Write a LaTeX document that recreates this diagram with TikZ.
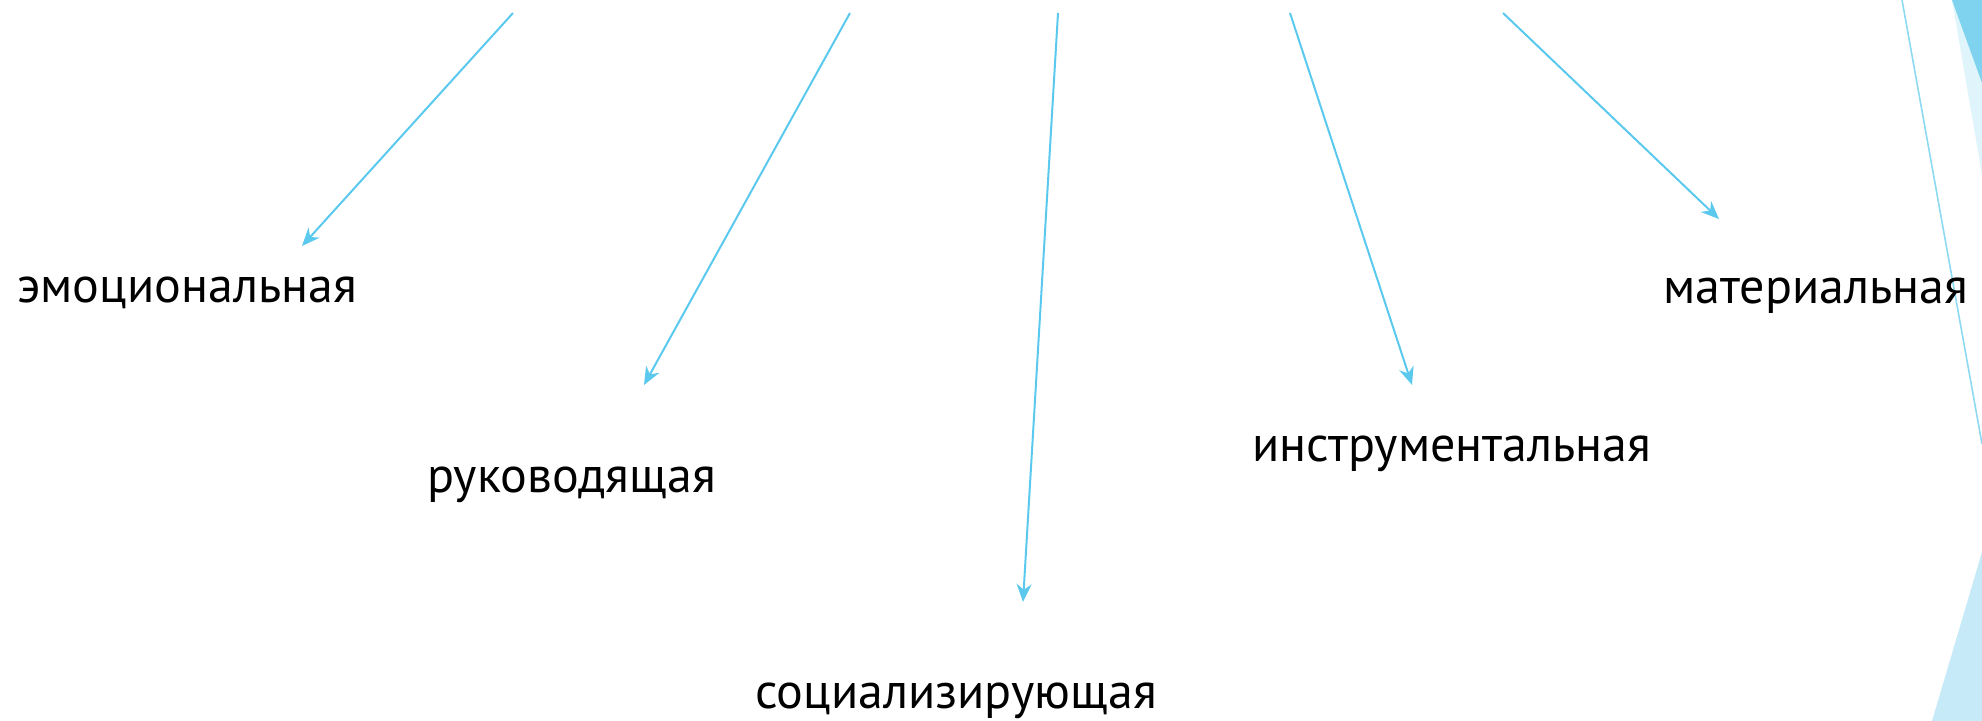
\documentclass[tikz,border=0pt]{standalone}
\usepackage{fontspec}
\setmainfont{PT Sans}
\usetikzlibrary{arrows.meta}
\definecolor{arrowblue}{HTML}{5BC9EE}
\definecolor{edgeblue}{HTML}{8ED9F2}
\definecolor{darktri}{HTML}{7FD3EE}
\definecolor{palettri}{HTML}{DFF4FB}
\definecolor{lowtri}{HTML}{C6EAF7}
\begin{document}
\begin{tikzpicture}[x=0.5pt, y=-0.5pt,
    lbl/.style={anchor=base west, inner sep=0pt, font=\fontsize{25}{28}\selectfont},
    arr/.style={draw=arrowblue, line width=1pt, -{Stealth[length=9pt,width=7.5pt]}}]
    \useasboundingbox (0,0) rectangle (1982,721);

    % Corner decoration
    \fill[palettri] (1952,0) -- (1982,0) -- (1982,175) -- cycle;
    \fill[darktri] (1952,0) -- (1982,0) -- (1982,83) -- cycle;
    \fill[lowtri] (1932,721) -- (1982,552) -- (1982,721) -- cycle;
    \draw[edgeblue, line width=0.8pt] (1902,0) -- (1982,444);

    % Labels
    \node[lbl] (emo) at (17,303) {эмоциональная};
    \node[lbl] (ruk) at (427,493) {руководящая};
    \node[lbl] (soc) at (755,708) {социализирующая};
    \node[lbl] (ins) at (1252,462) {инструментальная};
    \node[lbl] (mat) at (1663,304) {материальная};

    % Arrow ends
    \coordinate (emoS) at (513,13);  \coordinate (emoE) at (302,246);
    \coordinate (rukS) at (850,13);  \coordinate (rukE) at (644,385);
    \coordinate (socS) at (1058,13); \coordinate (socE) at (1023,602);
    \coordinate (insS) at (1290,13); \coordinate (insE) at (1412,385);
    \coordinate (matS) at (1503,13); \coordinate (matE) at (1719,219);

    % Arrows
    \foreach \n in {emo, ruk, soc, ins, mat} {
        \draw[arr] (\n S) -- (\n E);
    }
\end{tikzpicture}
\end{document}
